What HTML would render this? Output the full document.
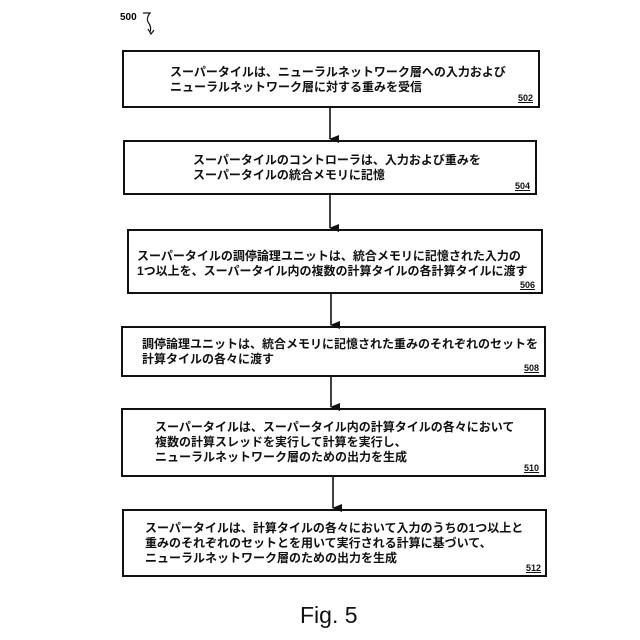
<!DOCTYPE html>
<html><head><meta charset="utf-8"><style>
body{margin:0;width:640px;height:640px;background:#fff;position:relative;overflow:hidden;font-family:"Liberation Sans","Noto Sans CJK JP",sans-serif;}
.b{position:absolute;border:2px solid #111;box-sizing:border-box;}
.t{position:absolute;font-size:12px;line-height:15px;color:#111;white-space:nowrap;font-weight:bold;}
.n{position:absolute;font-size:9px;font-weight:bold;text-decoration:underline;color:#111;}
</style></head><body>
<svg width="640" height="640" style="position:absolute;left:0;top:0">
<defs><marker id="a" markerWidth="8" markerHeight="10" refX="4" refY="9" orient="auto" markerUnits="userSpaceOnUse"><path d="M0,0 L8,0 L4,10 Z" fill="#111"/></marker></defs>
<g stroke="#111" stroke-width="1.6">
<line x1="330" y1="108" x2="330" y2="139" marker-end="url(#a)"/>
<line x1="330" y1="195" x2="330" y2="228" marker-end="url(#a)"/>
<line x1="331" y1="294" x2="331" y2="325" marker-end="url(#a)"/>
<line x1="331" y1="377" x2="331" y2="407" marker-end="url(#a)"/>
<line x1="333" y1="477" x2="333" y2="508" marker-end="url(#a)"/>
</g>
<path d="M143,13 L150,13 Q146,18 148,22 Q152,27 150,32" fill="none" stroke="#111" stroke-width="1.2"/>
<path d="M148,29 L151,34 L154,30" fill="none" stroke="#111" stroke-width="1.2"/>
<text x="120" y="20" font-size="10" font-weight="bold" font-family="Liberation Sans">500</text>
</svg>
<div class="b" style="left:122px;top:50px;width:418px;height:58px"></div>
<div class="t" style="left:170px;top:65px">スーパータイルは、ニューラルネットワーク層への入力および<br>ニューラルネットワーク層に対する重みを受信</div>
<div class="n" style="left:518px;top:93px">502</div>
<div class="b" style="left:123px;top:140px;width:414px;height:55px"></div>
<div class="t" style="left:193px;top:153px">スーパータイルのコントローラは、入力および重みを<br>スーパータイルの統合メモリに記憶</div>
<div class="n" style="left:515px;top:181px">504</div>
<div class="b" style="left:127px;top:229px;width:416px;height:65px"></div>
<div class="t" style="left:137px;top:249px">スーパータイルの調停論理ユニットは、統合メモリに記憶された入力の<br>1つ以上を、スーパータイル内の複数の計算タイルの各計算タイルに渡す</div>
<div class="n" style="left:520px;top:280px">506</div>
<div class="b" style="left:121px;top:326px;width:425px;height:51px"></div>
<div class="t" style="left:142px;top:337px">調停論理ユニットは、統合メモリに記憶された重みのそれぞれのセットを<br>計算タイルの各々に渡す</div>
<div class="n" style="left:524px;top:363px">508</div>
<div class="b" style="left:121px;top:408px;width:425px;height:69px"></div>
<div class="t" style="left:155px;top:420px">スーパータイルは、スーパータイル内の計算タイルの各々において<br>複数の計算スレッドを実行して計算を実行し、<br>ニューラルネットワーク層のための出力を生成</div>
<div class="n" style="left:524px;top:463px">510</div>
<div class="b" style="left:122px;top:509px;width:425px;height:68px"></div>
<div class="t" style="left:145px;top:521px">スーパータイルは、計算タイルの各々において入力のうちの1つ以上と<br>重みのそれぞれのセットとを用いて実行される計算に基づいて、<br>ニューラルネットワーク層のための出力を生成</div>
<div class="n" style="left:526px;top:563px">512</div>
<div style="position:absolute;left:300px;top:602px;font-size:23px;color:#111">Fig. 5</div>
</body></html>
